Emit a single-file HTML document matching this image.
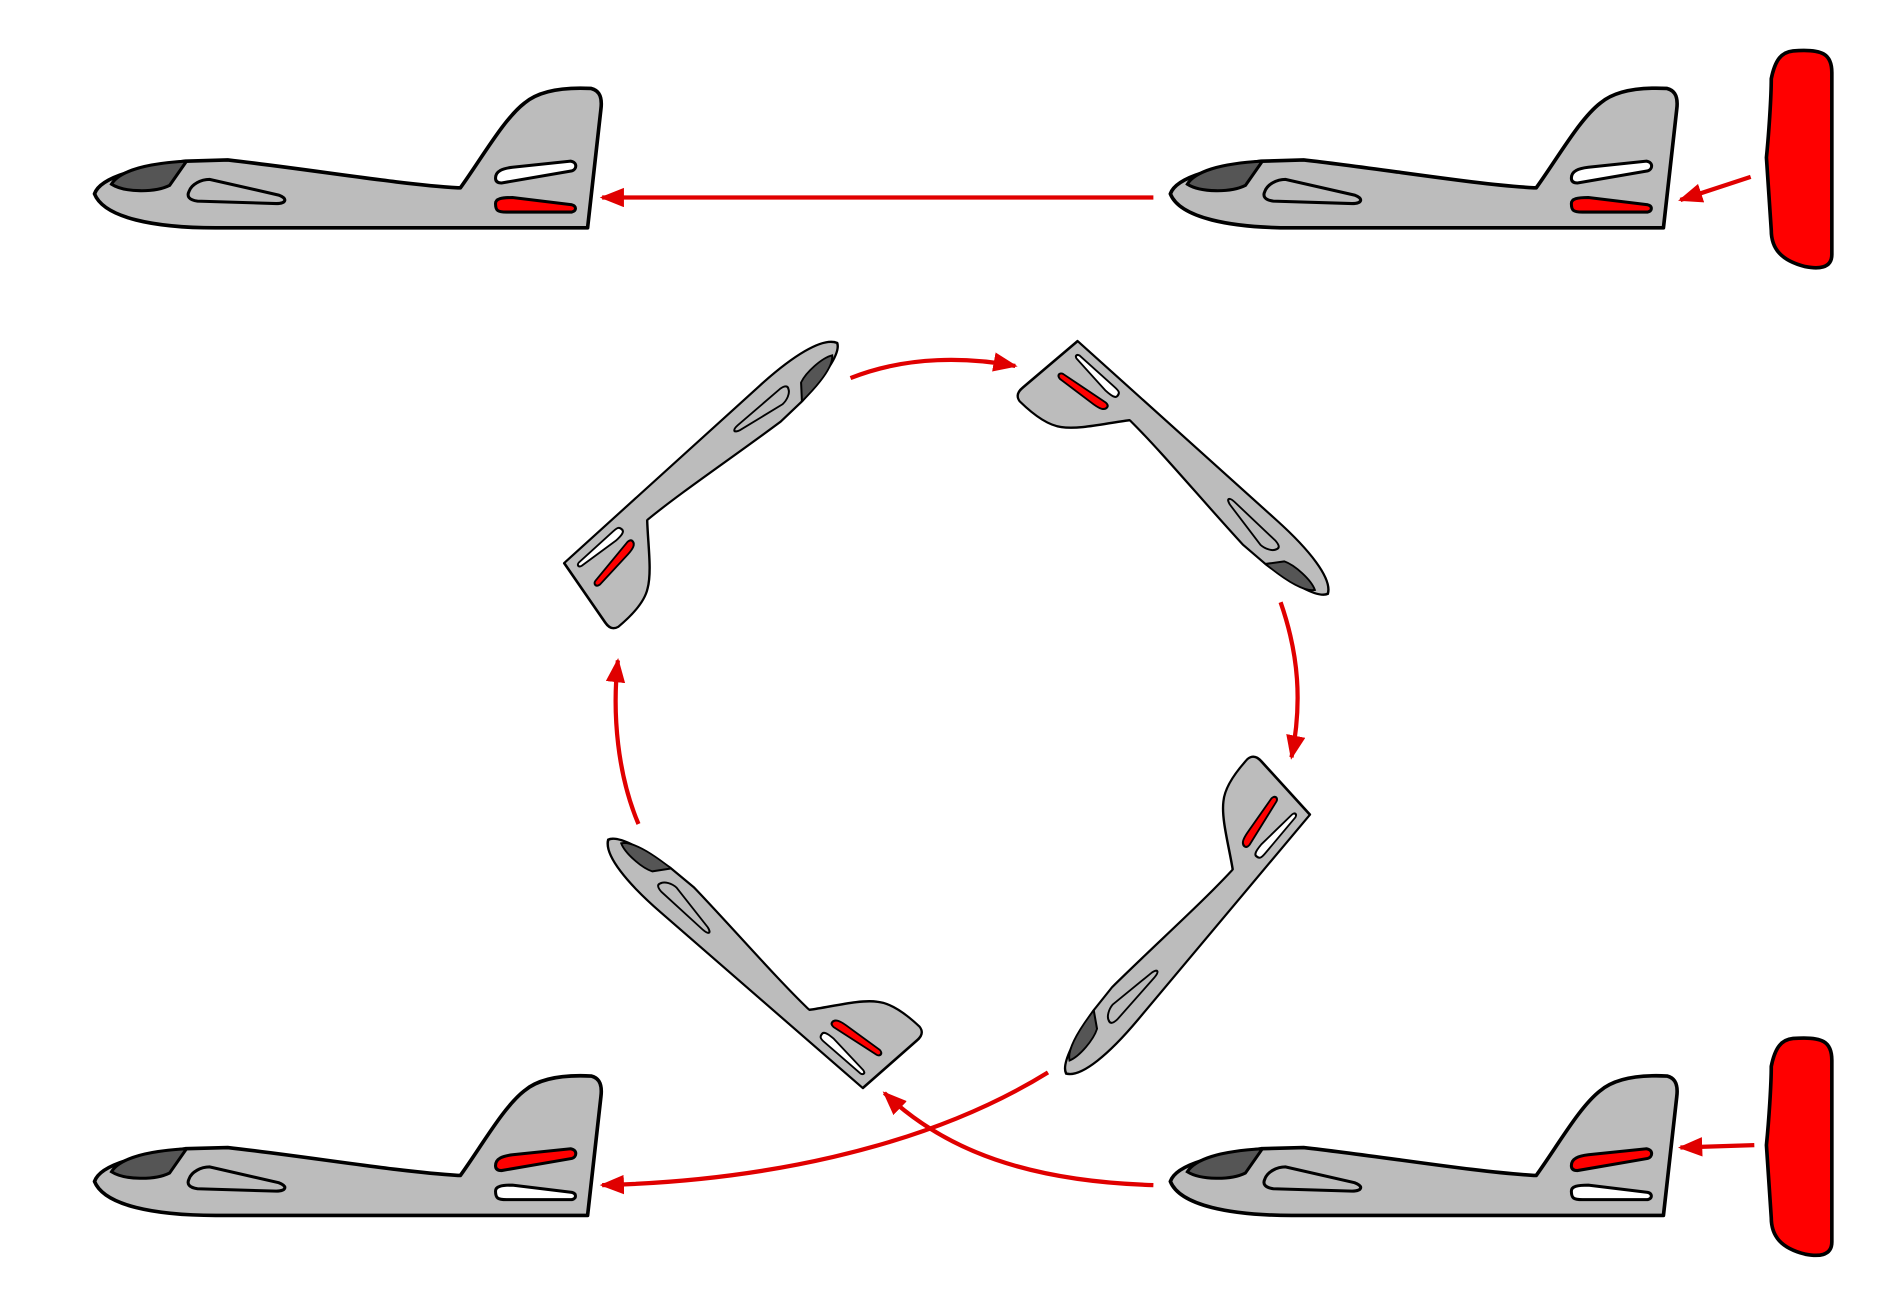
<!DOCTYPE html>
<html><head><meta charset="utf-8"><style>
html,body{margin:0;padding:0;background:#fff;}
svg{display:block;}
</style></head><body>
<svg width="1890" height="1299" viewBox="0 0 1560 1072" preserveAspectRatio="none" xmlns="http://www.w3.org/2000/svg">
<defs>
<marker id="ah" markerUnits="userSpaceOnUse" markerWidth="24" markerHeight="18" refX="18" refY="8" orient="auto">
<path d="M0,0 L20,8 L0,16 Z" fill="#e00000"/>
</marker>
<g id="body">
<path d="M0,0 C5,-15 40,-22 75,-27 L110,-28 C180,-20 250,-8 300,-5 L302,-5 C320,-30 338,-62 355,-75 C368,-86 390,-88 410,-87 C418,-85 419,-78 418,-70 L407,28 L100,28 C50,28 8,20 0,0 Z" fill="#bcbcbc" stroke="#000" stroke-width="3" stroke-linejoin="round"/>
<path d="M14,-8 C20,-18 40,-25 76,-27 L62,-7 C50,-1 25,-1 14,-8 Z" fill="#555" stroke="#000" stroke-width="2.5"/>
<path d="M78,-2 C80,-8 88,-12 95,-12 L152,1 C160,4 158,8 150,8 L85,6 C78,5 76,2 78,-2 Z" fill="#bcbcbc" stroke="#000" stroke-width="2.5"/>
</g>
<g id="slotsA">
<path d="M331,-13 C331,-19 337,-21 345,-22 L393,-27 C399,-26 398,-20 394,-19 L336,-9 C332,-9 331,-11 331,-13 Z" fill="#fff" stroke="#000" stroke-width="2.5"/>
<path d="M331,8 C331,14 333,15 340,15 L394,15 C398,14 398,10 394,9 L345,3 C336,3 331,4 331,8 Z" fill="#ff0000" stroke="#000" stroke-width="2.5"/>
</g>
<g id="slotsB">
<path d="M331,-13 C331,-19 337,-21 345,-22 L393,-27 C399,-26 398,-20 394,-19 L336,-9 C332,-9 331,-11 331,-13 Z" fill="#ff0000" stroke="#000" stroke-width="2.5"/>
<path d="M331,8 C331,14 333,15 340,15 L394,15 C398,14 398,10 394,9 L345,3 C336,3 331,4 331,8 Z" fill="#fff" stroke="#000" stroke-width="2.5"/>
</g>
<g id="planeA"><use href="#body"/><use href="#slotsA"/></g>
<g id="planeB"><use href="#body"/><use href="#slotsB"/></g>
<path id="block" d="M22,0 C47,-2 54,3 54,18 L54,168 C54,180 42,180 32,178 C12,173 4,163 4,148 L0,88 C2,68 4,38 4,23 C7,8 12,1 22,0 Z" fill="#ff0000" stroke="#000" stroke-width="3"/>
</defs>

<use href="#planeA" transform="translate(78,160)"/>
<use href="#planeA" transform="translate(966,160)"/>
<use href="#planeB" transform="translate(78,975)"/>
<use href="#planeB" transform="translate(966,975)"/>

<use href="#planeB" transform="translate(691,283) rotate(137.8) scale(0.71,0.6)"/>
<use href="#planeB" transform="translate(1096,490) rotate(222) scale(0.72,0.6)"/>
<use href="#planeB" transform="translate(880,886) rotate(-50) scale(0.72,0.6)"/>
<use href="#planeB" transform="translate(502,693) rotate(41) scale(0.72,0.6)"/>

<use href="#block" transform="translate(1458,42)"/>
<use href="#block" transform="translate(1458,857)"/>

<g fill="none" stroke="#e00000" stroke-width="3.5" marker-end="url(#ah)">
<path d="M952,163 L497,163"/>
<path d="M1445,146 L1387,165"/>
<path d="M1448,945 L1387,947"/>
<path d="M952,978 C850,975 780,950 730,902"/>
<path d="M865,885 C760,950 620,975 497,978"/>
<path d="M702,312 C750,293 800,295 838,302"/>
<path d="M1057,497 C1072,540 1075,580 1066,625"/>
<path d="M527,680 C510,640 505,590 510,545"/>
</g>
</svg>
</body></html>
